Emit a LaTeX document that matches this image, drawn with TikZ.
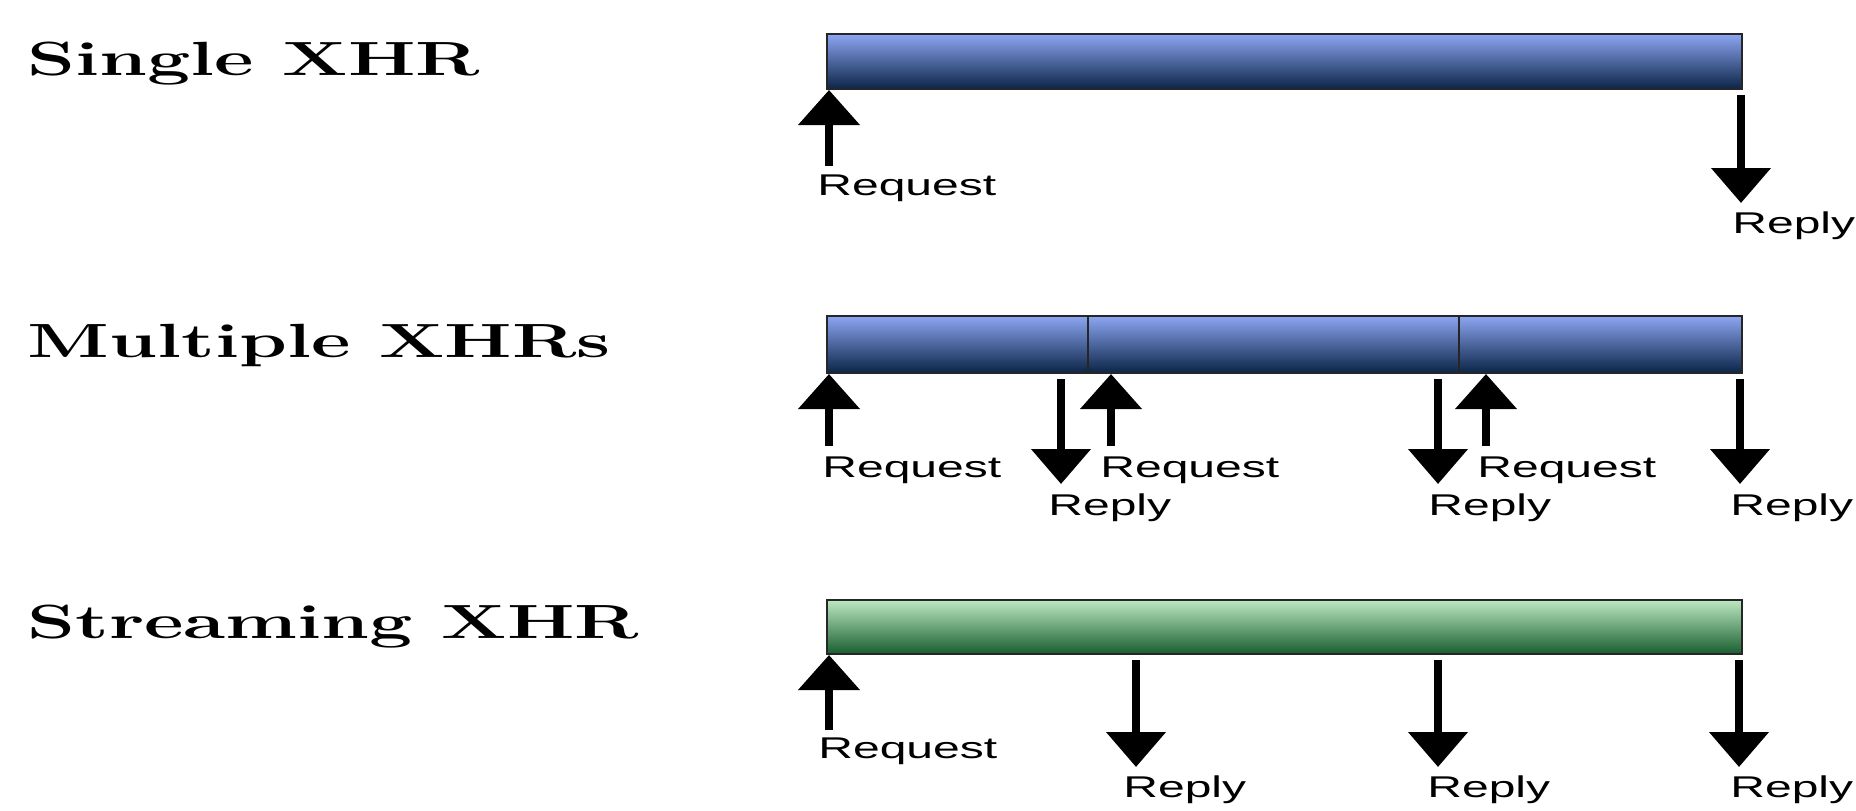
\documentclass[tikz,border=0pt]{standalone}
\usepackage{fontspec}
\usepackage{graphicx}
\usepackage{tikz}
\usetikzlibrary{arrows.meta,positioning}
\newfontfamily\lblfont{Liberation Sans}
\definecolor{bartop}{HTML}{8CA6F2}
\definecolor{barbot}{HTML}{0B2447}
\definecolor{strtop}{HTML}{BDE8C0}
\definecolor{strbot}{HTML}{185E30}
\newcommand{\lbl}[1]{\scalebox{1.6}[1]{\lblfont\fontsize{15}{18}\selectfont #1}}
\newcommand{\ttl}[1]{\scalebox{1.6}[1]{\bfseries\fontsize{24}{29}\selectfont #1}}

\begin{document}
\begin{tikzpicture}[x=0.5pt,y=-0.5pt,
  bar/.style={draw=black!85,line width=1pt,rectangle,inner sep=0,anchor=north west,
    top color=bartop,bottom color=barbot},
  strbar/.style={bar,top color=strtop,bottom color=strbot},
  txt/.style={inner sep=0,anchor=base west},
  reqarrow/.style={line width=4pt,-{Triangle[width=30pt,length=17.5pt]}},
  rplarrow/.style={line width=4pt,shorten <=2.5pt,-{Triangle[width=29pt,length=17.5pt]}}]
  \useasboundingbox (0,0) rectangle (1856,810);

  \node (singlettl) [txt] at (27,75) {\ttl{Single XHR}};
  \node (multittl) [txt] at (27,357) {\ttl{Multiple XHRs}};
  \node (streamttl) [txt] at (27,638) {\ttl{Streaming XHR}};

  \node (single) [bar,minimum width=457.5pt,minimum height=27.5pt] at (826,33) {};
  \node (multi1) [bar,minimum width=130.5pt,minimum height=28.5pt] at (826,315) {};
  \node (multi2) [bar,minimum width=185.5pt,minimum height=28.5pt] at (1087,315) {};
  \node (multi3) [bar,minimum width=141.5pt,minimum height=28.5pt] at (1458,315) {};
  \node (stream) [strbar,minimum width=457.5pt,minimum height=27pt] at (826,599) {};

  \coordinate (sreq) at (829,166);
  \coordinate (srpl) at (1741,203);
  \draw [reqarrow] (sreq) -- (sreq |- single.south);
  \draw [rplarrow] (srpl |- single.south) -- (srpl);
  \node (sreqtxt) [txt] at (817,195) {\lbl{Request}};
  \node (srpltxt) [txt] at (1732,233) {\lbl{Reply}};

  \coordinate (mreq1) at (829,446);
  \coordinate (mrpl1) at (1061,484);
  \coordinate (mreq2) at (1111,446);
  \coordinate (mrpl2) at (1438,484);
  \coordinate (mreq3) at (1486,446);
  \coordinate (mrpl3) at (1740,484);
  \draw [reqarrow] (mreq1) -- (mreq1 |- multi1.south);
  \draw [rplarrow] (mrpl1 |- multi1.south) -- (mrpl1);
  \draw [reqarrow] (mreq2) -- (mreq2 |- multi2.south);
  \draw [rplarrow] (mrpl2 |- multi2.south) -- (mrpl2);
  \draw [reqarrow] (mreq3) -- (mreq3 |- multi3.south);
  \draw [rplarrow] (mrpl3 |- multi3.south) -- (mrpl3);
  \node (mreqtxt1) [txt] at (822,477) {\lbl{Request}};
  \node (mrpltxt1) [txt] at (1048,515) {\lbl{Reply}};
  \node (mreqtxt2) [txt] at (1100,477) {\lbl{Request}};
  \node (mrpltxt2) [txt] at (1428,515) {\lbl{Reply}};
  \node (mreqtxt3) [txt] at (1477,477) {\lbl{Request}};
  \node (mrpltxt3) [txt] at (1730,515) {\lbl{Reply}};

  \coordinate (treq) at (829,730);
  \coordinate (trpl1) at (1136,767);
  \coordinate (trpl2) at (1438,767);
  \coordinate (trpl3) at (1739,767);
  \draw [reqarrow] (treq) -- (treq |- stream.south);
  \draw [rplarrow] (trpl1 |- stream.south) -- (trpl1);
  \draw [rplarrow] (trpl2 |- stream.south) -- (trpl2);
  \draw [rplarrow] (trpl3 |- stream.south) -- (trpl3);
  \node (treqtxt) [txt] at (818,758) {\lbl{Request}};
  \node (trpltxt1) [txt] at (1123,797) {\lbl{Reply}};
  \node (trpltxt2) [txt] at (1427,797) {\lbl{Reply}};
  \node (trpltxt3) [txt] at (1730,797) {\lbl{Reply}};

\end{tikzpicture}
\end{document}
